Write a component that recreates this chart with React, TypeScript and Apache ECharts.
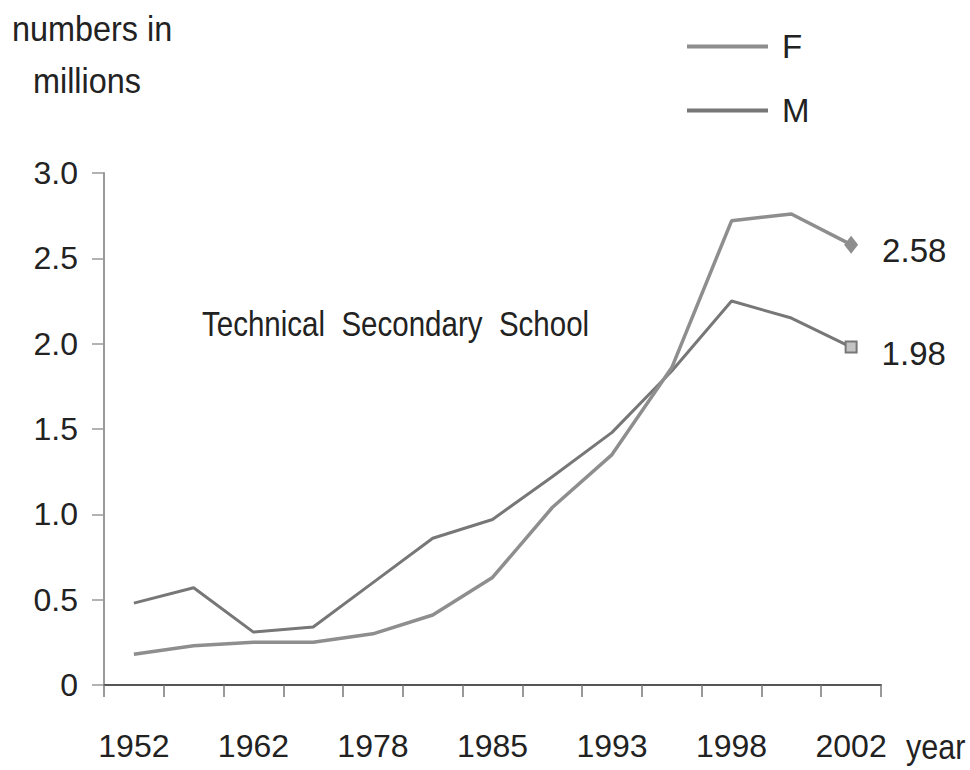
import React, { useEffect, useRef } from "react";
import * as echarts from "echarts";

const years = ["1952", "1957", "1962", "1965", "1978", "1980", "1985", "1990", "1993", "1995", "1998", "2000", "2002"];
const femaleValues = [0.18, 0.23, 0.25, 0.25, 0.3, 0.41, 0.63, 1.04, 1.35, 1.86, 2.72, 2.76, 2.58];
const maleValues = [0.48, 0.57, 0.31, 0.34, 0.6, 0.86, 0.97, 1.22, 1.48, 1.84, 2.25, 2.15, 1.98];
const yTicks = [0, 0.5, 1.0, 1.5, 2.0, 2.5, 3.0];

const FONT = "'Liberation Sans Narrow', 'Liberation Sans', Arial, sans-serif";
const TEXT = "#222";
const F_COLOR = "#8e8e8e";
const M_COLOR = "#777777";

export default function App() {
  const ref = useRef<HTMLDivElement>(null);
  useEffect(() => {
    if (!ref.current) return;
    const chart = echarts.init(ref.current, undefined, { renderer: "svg" });
    const lastIdx = years.length - 1;
    const endLabel = {
      show: true,
      position: "right",
      distance: 24,
      offset: [0, 6],
      fontSize: 33,
      fontFamily: FONT,
      color: TEXT,
      formatter: "{c}",
    };
    const fData = femaleValues.map((v, i) =>
      i === lastIdx
        ? { value: v, symbol: "diamond", symbolSize: [14, 18], itemStyle: { color: F_COLOR }, label: endLabel }
        : v
    );
    const mData = maleValues.map((v, i) =>
      i === lastIdx
        ? {
            value: v,
            symbol: "rect",
            symbolSize: 11,
            itemStyle: { color: "#c4c4c4", borderColor: M_COLOR, borderWidth: 2 },
            label: endLabel,
          }
        : v
    );
    const txt = (text: string, x: number, y: number, sx: number) => ({
      type: "text",
      x,
      y,
      scaleX: sx,
      style: { text, fontSize: 36, fontFamily: FONT, fill: TEXT, align: "left", verticalAlign: "middle" },
    });
    chart.setOption({
      animation: false,
      backgroundColor: "#ffffff",
      textStyle: { fontFamily: FONT },
      grid: { left: 104, right: 89, top: 173, bottom: 85, containLabel: false },
      legend: {
        orient: "vertical",
        left: 687,
        top: 30,
        padding: 0,
        itemGap: 31,
        itemWidth: 81,
        itemHeight: 4,
        icon: "rect",
        textStyle: { fontSize: 33, fontFamily: FONT, color: TEXT, padding: [6, 0, 0, 9] },
        data: [
          { name: "F", itemStyle: { color: F_COLOR } },
          { name: "M", itemStyle: { color: M_COLOR } },
        ],
      },
      xAxis: {
        type: "category",
        data: years,
        boundaryGap: true,
        axisLine: { lineStyle: { color: "#555", width: 2 } },
        axisTick: { show: true, interval: 0, length: 12, lineStyle: { color: "#777", width: 1.5 } },
        axisLabel: {
          interval: 1,
          margin: 45,
          fontSize: 32,
          fontFamily: FONT,
          color: TEXT,
        },
        splitLine: { show: false },
      },
      yAxis: {
        type: "value",
        min: 0,
        max: 3,
        interval: 0.5,
        axisLine: { show: true, lineStyle: { color: "#999", width: 2 } },
        axisTick: { show: true, length: 12, lineStyle: { color: "#999", width: 1.5 } },
        axisLabel: {
          margin: 26,
          fontSize: 32,
          fontFamily: FONT,
          color: TEXT,
          formatter: (v: number) => {
            const t = yTicks.find((x) => Math.abs(x - v) < 1e-9);
            const val = t === undefined ? v : t;
            return val === 0 ? "0" : val.toFixed(1);
          },
        },
        splitLine: { show: false },
      },
      graphic: [
        txt("numbers in", 12, 28, 0.9),
        txt("millions", 33, 80, 0.9),
        txt("year", 906, 747, 0.85),
        txt("Technical  Secondary  School", 202, 323, 0.82),
      ],
      series: [
        {
          name: "F",
          type: "line",
          data: fData,
          symbol: "circle",
          symbolSize: 0,
          showSymbol: true,
          lineStyle: { color: F_COLOR, width: 3.5 },
          itemStyle: { color: F_COLOR },
          z: 3,
        },
        {
          name: "M",
          type: "line",
          data: mData,
          symbol: "circle",
          symbolSize: 0,
          showSymbol: true,
          lineStyle: { color: M_COLOR, width: 3 },
          itemStyle: { color: M_COLOR },
          z: 2,
        },
      ],
    });
    return () => chart.dispose();
  }, []);
  return <div ref={ref} style={{ width: 970, height: 770, position: "absolute", left: 0, top: 0 }} />;
}
